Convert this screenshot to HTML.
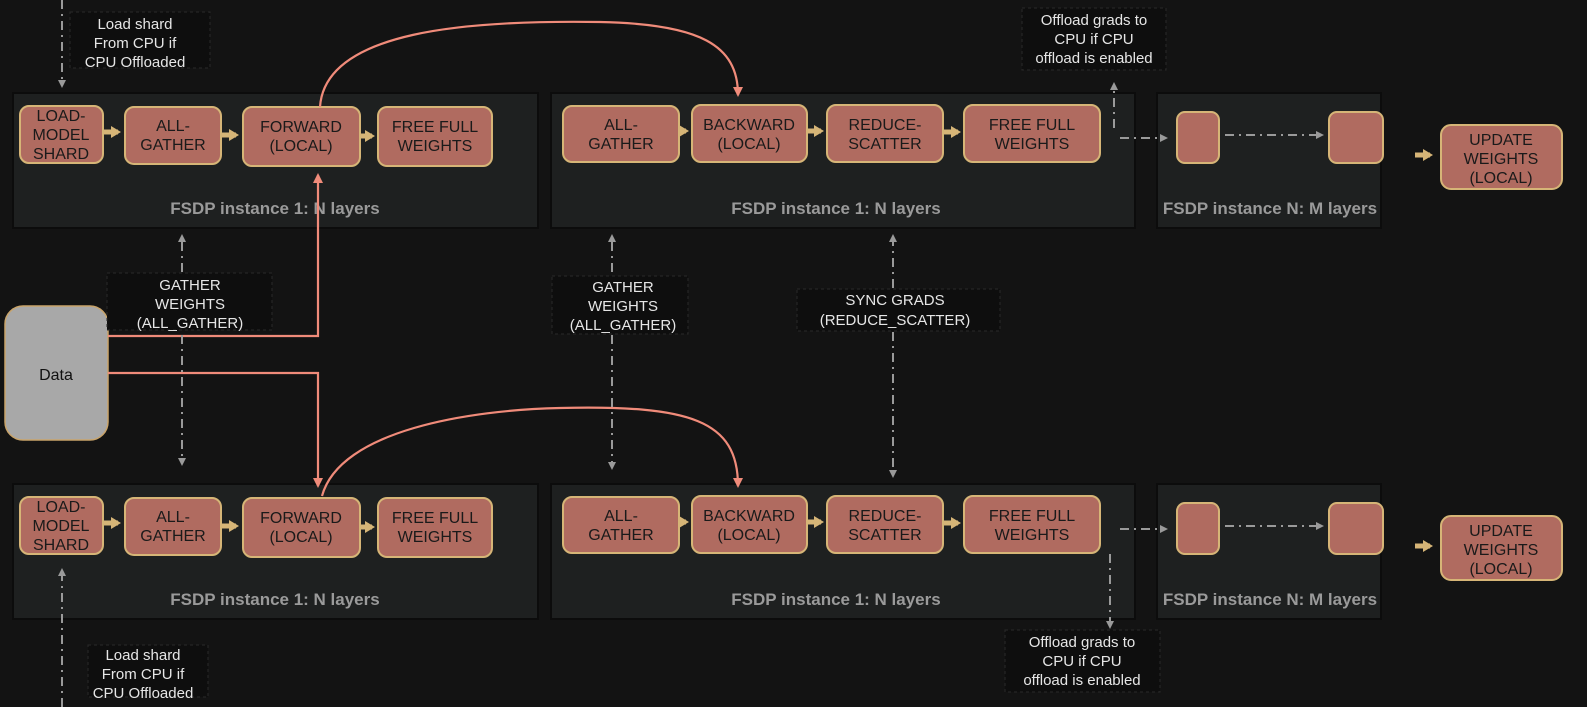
<!DOCTYPE html>
<html><head><meta charset="utf-8"><style>
html,body{margin:0;padding:0;background:#131313;}
svg{display:block;}
text{font-family:"Liberation Sans",Arial,sans-serif;}
.bx{fill:#b06b60;stroke:#d6b577;stroke-width:2;}
.bt{fill:#1a1a1a;font-size:16px;text-anchor:middle;}
.pn{fill:#1e2020;stroke:#0c0c0c;stroke-width:2;}
.pt{fill:#9a9a9a;font-size:17px;font-weight:bold;text-anchor:middle;}
.dl{stroke:#9a9a9a;stroke-width:2;stroke-dasharray:9,5,2,5;fill:none;}
.lb{fill:#e6e6e6;font-size:15px;text-anchor:middle;}
.lbx{fill:#0e0e0e;stroke:#2a2a2a;stroke-dasharray:3,3;}
.tan{stroke:#d6b577;stroke-width:5;}
.red{stroke:#f08b7a;stroke-width:2.2;fill:none;}
</style></head><body>
<svg width="1587" height="707" viewBox="0 0 1587 707" xmlns="http://www.w3.org/2000/svg">
<defs>
<marker id="ga" markerWidth="8" markerHeight="8" refX="6" refY="4" orient="auto" markerUnits="userSpaceOnUse"><path d="M0,0 L8,4 L0,8z" fill="#9a9a9a"/></marker>
<marker id="ta" markerWidth="10" markerHeight="12" refX="7" refY="6" orient="auto" markerUnits="userSpaceOnUse"><path d="M0,0 L10,6 L0,12z" fill="#d6b577"/></marker>
<marker id="ra" markerWidth="10" markerHeight="10" refX="8" refY="5" orient="auto" markerUnits="userSpaceOnUse"><path d="M0,0 L10,5 L0,10z" fill="#f08b7a"/></marker>
</defs>

<g>
<rect class="pn" x="13" y="93" width="525" height="135"/>
<rect class="pn" x="551" y="93" width="584" height="135"/>
<rect class="pn" x="1157" y="93" width="224" height="135"/>
<rect class="pn" x="13" y="484" width="525" height="135"/>
<rect class="pn" x="551" y="484" width="584" height="135"/>
<rect class="pn" x="1157" y="484" width="224" height="135"/>
<text class="pt" x="275" y="214">FSDP instance 1: N layers</text>
<text class="pt" x="836" y="214">FSDP instance 1: N layers</text>
<text class="pt" x="1270" y="214">FSDP instance N: M layers</text>
<text class="pt" x="275" y="605">FSDP instance 1: N layers</text>
<text class="pt" x="836" y="605">FSDP instance 1: N layers</text>
<text class="pt" x="1270" y="605">FSDP instance N: M layers</text>
</g>

<g id="row1">
<rect class="bx" x="20" y="106" width="83" height="57" rx="9"/>
<text class="bt" x="61" y="121">LOAD-</text><text class="bt" x="61" y="140">MODEL</text><text class="bt" x="61" y="159">SHARD</text>
<rect class="bx" x="125" y="107" width="96" height="57" rx="9"/>
<text class="bt" x="173" y="131">ALL-</text><text class="bt" x="173" y="150">GATHER</text>
<rect class="bx" x="243" y="107" width="117" height="59" rx="9"/>
<text class="bt" x="301" y="132">FORWARD</text><text class="bt" x="301" y="151">(LOCAL)</text>
<rect class="bx" x="378" y="107" width="114" height="59" rx="9"/>
<text class="bt" x="435" y="132">FREE FULL</text><text class="bt" x="435" y="151">WEIGHTS</text>
<line class="tan" x1="104" y1="132" x2="118" y2="132" marker-end="url(#ta)"/>
<line class="tan" x1="222" y1="135" x2="236" y2="135" marker-end="url(#ta)"/>
<line class="tan" x1="361" y1="136" x2="372" y2="136" marker-end="url(#ta)"/>

<rect class="bx" x="563" y="106" width="116" height="56" rx="9"/>
<text class="bt" x="621" y="130">ALL-</text><text class="bt" x="621" y="149">GATHER</text>
<rect class="bx" x="692" y="105" width="115" height="57" rx="9"/>
<text class="bt" x="749" y="130">BACKWARD</text><text class="bt" x="749" y="149">(LOCAL)</text>
<rect class="bx" x="827" y="105" width="116" height="57" rx="9"/>
<text class="bt" x="885" y="130">REDUCE-</text><text class="bt" x="885" y="149">SCATTER</text>
<rect class="bx" x="964" y="105" width="136" height="57" rx="9"/>
<text class="bt" x="1032" y="130">FREE FULL</text><text class="bt" x="1032" y="149">WEIGHTS</text>
<line class="tan" x1="680" y1="131" x2="686" y2="131" marker-end="url(#ta)"/>
<line class="tan" x1="808" y1="131" x2="821" y2="131" marker-end="url(#ta)"/>
<line class="tan" x1="944" y1="132" x2="958" y2="132" marker-end="url(#ta)"/>

<rect class="bx" x="1177" y="112" width="42" height="51" rx="8"/>
<rect class="bx" x="1329" y="112" width="54" height="51" rx="8"/>
<line class="dl" x1="1120" y1="138" x2="1166" y2="138" marker-end="url(#ga)"/>
<line class="dl" x1="1225" y1="135" x2="1322" y2="135" marker-end="url(#ga)"/>
<rect class="bx" x="1441" y="125" width="121" height="64" rx="10"/>
<text class="bt" x="1501" y="145">UPDATE</text><text class="bt" x="1501" y="164">WEIGHTS</text><text class="bt" x="1501" y="183">(LOCAL)</text>
<line class="tan" x1="1415" y1="155" x2="1430" y2="155" marker-end="url(#ta)"/>
</g>
<use href="#row1" y="391"/>

<rect x="5" y="306" width="103" height="134" rx="18" fill="#a8a8a8" stroke="#c9a46a" stroke-width="1.5"/>
<text x="56" y="380" font-size="16" fill="#111" text-anchor="middle">Data</text>

<polyline class="red" points="108,336 318,336 318,175" marker-end="url(#ra)"/>
<polyline class="red" points="108,373 318,373 318,486" marker-end="url(#ra)"/>
<path class="red" d="M320,107 C325,30 470,20 600,22 C700,24 738,45 738,95" marker-end="url(#ra)"/>
<path class="red" d="M322,496 C340,430 470,410 560,408 C690,405 738,420 738,486" marker-end="url(#ra)"/>

<line class="dl" x1="62" y1="0" x2="62" y2="86" marker-end="url(#ga)"/>
<line class="dl" x1="62" y1="707" x2="62" y2="570" marker-end="url(#ga)"/>
<line class="dl" x1="182" y1="272" x2="182" y2="236" marker-end="url(#ga)"/>
<line class="dl" x1="182" y1="335" x2="182" y2="464" marker-end="url(#ga)"/>
<line class="dl" x1="612" y1="272" x2="612" y2="236" marker-end="url(#ga)"/>
<line class="dl" x1="612" y1="335" x2="612" y2="468" marker-end="url(#ga)"/>
<line class="dl" x1="893" y1="288" x2="893" y2="236" marker-end="url(#ga)"/>
<line class="dl" x1="893" y1="332" x2="893" y2="476" marker-end="url(#ga)"/>
<line class="dl" x1="1114" y1="128" x2="1114" y2="84" marker-end="url(#ga)"/>
<line class="dl" x1="1110" y1="554" x2="1110" y2="627" marker-end="url(#ga)"/>

<rect class="lbx" x="70" y="12" width="140" height="56"/>
<text class="lb" x="135" y="29">Load shard</text><text class="lb" x="135" y="48">From CPU if</text><text class="lb" x="135" y="67">CPU Offloaded</text>
<rect class="lbx" x="88" y="645" width="120" height="52"/>
<text class="lb" x="143" y="660">Load shard</text><text class="lb" x="143" y="679">From CPU if</text><text class="lb" x="143" y="698">CPU Offloaded</text>
<rect class="lbx" x="107" y="273" width="165" height="57"/>
<text class="lb" x="190" y="290">GATHER</text><text class="lb" x="190" y="309">WEIGHTS</text><text class="lb" x="190" y="328">(ALL_GATHER)</text>
<rect class="lbx" x="552" y="276" width="136" height="58"/>
<text class="lb" x="623" y="292">GATHER</text><text class="lb" x="623" y="311">WEIGHTS</text><text class="lb" x="623" y="330">(ALL_GATHER)</text>
<rect class="lbx" x="797" y="289" width="203" height="42"/>
<text class="lb" x="895" y="305">SYNC GRADS</text><text class="lb" x="895" y="325">(REDUCE_SCATTER)</text>
<rect class="lbx" x="1022" y="8" width="144" height="62"/>
<text class="lb" x="1094" y="25">Offload grads to</text><text class="lb" x="1094" y="44">CPU if CPU</text><text class="lb" x="1094" y="63">offload is enabled</text>
<rect class="lbx" x="1005" y="630" width="155" height="62"/>
<text class="lb" x="1082" y="647">Offload grads to</text><text class="lb" x="1082" y="666">CPU if CPU</text><text class="lb" x="1082" y="685">offload is enabled</text>
</svg>
</body></html>
